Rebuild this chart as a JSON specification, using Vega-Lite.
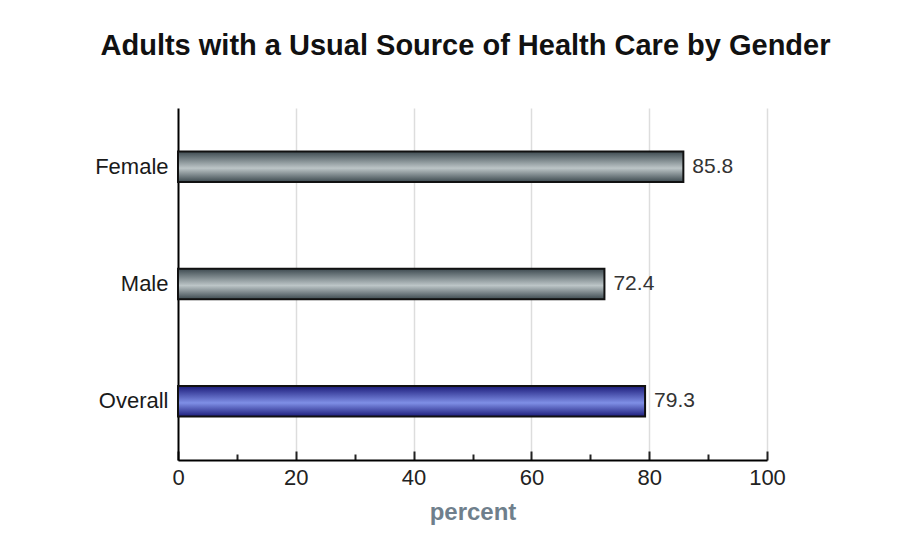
{
  "$schema": "https://vega.github.io/schema/vega-lite/v6.json",
  "width": 589,
  "height": 352,
  "autosize": "none",
  "padding": {"left": 178, "top": 108, "right": 154, "bottom": 92},
  "background": "white",
  "title": {
    "text": "Adults with a Usual Source of Health Care by Gender",
    "fontSize": 29,
    "font": "Liberation Sans",
    "fontWeight": "bold",
    "color": "#111111",
    "anchor": "middle",
    "frame": "group",
    "dx": -7,
    "offset": 47
  },
  "data": {
    "values": [
      {"group": "Female", "percent": 85.8},
      {"group": "Male", "percent": 72.4},
      {"group": "Overall", "percent": 79.3}
    ]
  },
  "encoding": {
    "y": {
      "field": "group",
      "type": "nominal",
      "sort": ["Female", "Male", "Overall"],
      "scale": {"paddingInner": 0.74, "paddingOuter": 0.37},
      "axis": {
        "title": null,
        "ticks": false,
        "domainColor": "#000000",
        "domainWidth": 2,
        "labelFont": "Liberation Sans",
        "labelFontSize": 22,
        "labelColor": "#1a1a1a",
        "labelPadding": 10
      }
    },
    "x": {
      "field": "percent",
      "type": "quantitative",
      "scale": {"domain": [0, 100], "nice": false},
      "axis": {
        "title": "percent",
        "titleFont": "Liberation Sans",
        "titleFontSize": 24,
        "titleColor": "#6f7f8c",
        "titleFontWeight": "bold",
        "titlePadding": 12,
        "values": [0, 10, 20, 30, 40, 50, 60, 70, 80, 90, 100],
        "labelExpr": "datum.value % 20 === 0 ? datum.label : ''",
        "labelFont": "Liberation Sans",
        "labelFontSize": 22,
        "labelColor": "#222222",
        "labelPadding": 16,
        "labelFlush": false,
        "tickSize": {"expr": "datum.value % 20 === 0 ? -9 : -6"},
        "tickColor": "#222222",
        "tickWidth": 2,
        "domainColor": "#000000",
        "domainWidth": 2,
        "grid": true,
        "gridColor": "#dddddd",
        "gridWidth": 1.5,
        "gridOpacity": {"expr": "datum.value % 20 === 0 && datum.value > 0 ? 1 : 0"}
      }
    }
  },
  "layer": [
    {
      "mark": {"type": "bar", "stroke": "#111111", "strokeWidth": 2},
      "encoding": {
        "fill": {
          "condition": {
            "test": "datum.group === 'Overall'",
            "value": {
              "gradient": "linear", "x1": 0, "y1": 0, "x2": 0, "y2": 1,
              "stops": [
                {"offset": 0, "color": "#1c1c7a"},
                {"offset": 0.55, "color": "#7f8fe6"},
                {"offset": 1, "color": "#1c1c7a"}
              ]
            }
          },
          "value": {
            "gradient": "linear", "x1": 0, "y1": 0, "x2": 0, "y2": 1,
            "stops": [
              {"offset": 0, "color": "#3d4a50"},
              {"offset": 0.55, "color": "#bcc5c7"},
              {"offset": 1, "color": "#3d4a50"}
            ]
          }
        }
      }
    },
    {
      "mark": {"type": "text", "align": "left", "dx": 9, "font": "Liberation Sans", "fontSize": 21, "color": "#333333"},
      "encoding": {
        "text": {"field": "percent", "type": "quantitative", "format": ".1f"}
      }
    }
  ],
  "config": {
    "view": {"stroke": null}
  }
}
